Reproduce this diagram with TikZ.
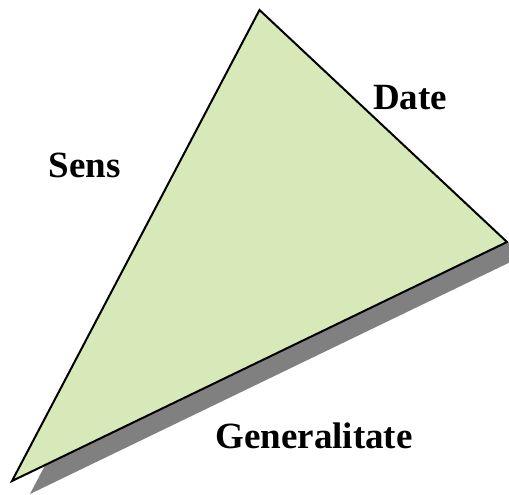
\documentclass[tikz,border=0pt]{standalone}
\usepackage{fontspec}
\setmainfont{Liberation Serif}
\usepackage{xcolor}
\usepackage{tikz}
\usetikzlibrary{positioning, calc}

\definecolor{leafgreen}{RGB}{215,233,185}
\definecolor{shadowgray}{RGB}{128,128,128}

\tikzset{
    corner label/.style={anchor=base, font=\fontsize{37}{40}\selectfont\bfseries}
}

\begin{document}
\begin{tikzpicture}[x=1pt, y=-1pt]
\useasboundingbox (0,0) rectangle (509,495);
\clip (0,0) rectangle (509,495);

% Triangle corners
\coordinate (top) at (259.5,10);
\coordinate (right) at (507,242);
\coordinate (left) at (12,481);

% Shadow under the long edge
\fill[shadowgray] ($(left)+(18,13)$) -- ($(left)!0.15!(top)+(18,13)$)
    -- (right) -- ($(right)+(18,13)$) -- cycle;

% Triangle
\draw[line width=2pt, line join=miter, fill=leafgreen] (top) -- (right) -- (left) -- cycle;

\node[corner label] (sens) at (84.5,177) {Sens};
\node[corner label] (date) at (410,110) {Date};
\node[corner label] (gen) at (314,448) {Generalitate};
\end{tikzpicture}
\end{document}
